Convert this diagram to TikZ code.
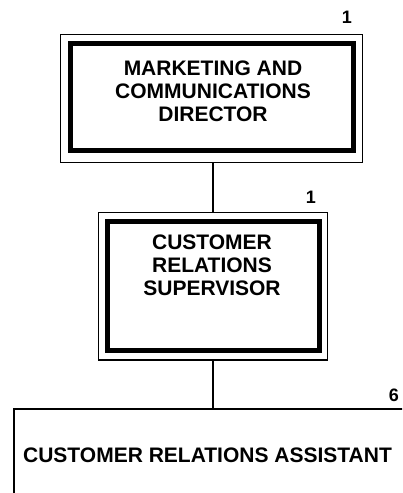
\documentclass[tikz,border=0pt]{standalone}
\usepackage{fontspec}
\setmainfont{Liberation Sans}
\begin{document}
\begin{tikzpicture}[x=1pt,y=-1pt,
  thinframe/.style={draw, line width=1.6pt, inner sep=0pt, outer sep=0pt},
  thickframe/.style={draw, line width=5pt, inner sep=0pt, outer sep=0pt},
  title/.style={font=\fontsize{21}{23}\selectfont\bfseries, align=center, inner sep=0pt},
  count/.style={font=\fontsize{18}{20}\selectfont\bfseries, inner sep=0pt},
  link/.style={line width=1.8pt}]
\useasboundingbox (0,0) rectangle (402,493);
\clip (0,0) rectangle (402,493);
% director
\node[thinframe, minimum width=302pt, minimum height=128pt] (d1) at (211.5,98.5) {};
\node[thickframe, minimum width=283pt, minimum height=107pt] (d1in) at (212,97) {};
\node[title] (d1t) at (213,91) {MARKETING AND\\COMMUNICATIONS\\DIRECTOR};
\node[count] (d1n) at (347,17) {1};
% supervisor
\node[thinframe, minimum width=229pt, minimum height=147.5pt] (s1) at (213,286.25) {};
\node[thickframe, minimum width=212pt, minimum height=129pt] (s1in) at (213.5,286) {};
\node[title] (s1t) at (212,265) {CUSTOMER\\RELATIONS\\SUPERVISOR};
\node[count] (s1n) at (311,197) {1};
% assistant
\node[thinframe, line width=2pt, anchor=north west, minimum width=500pt, minimum height=200pt] (a1) at (14,408.5) {};
\node[title] (a1t) at (207.5,455) {CUSTOMER RELATIONS ASSISTANT};
\node[count] (a1n) at (394,395) {6};
% connectors
\draw[link] (d1.south -| s1.north) -- (s1.north);
\draw[link] (s1.south) -- (s1.south |- a1.north);
\end{tikzpicture}
\end{document}
